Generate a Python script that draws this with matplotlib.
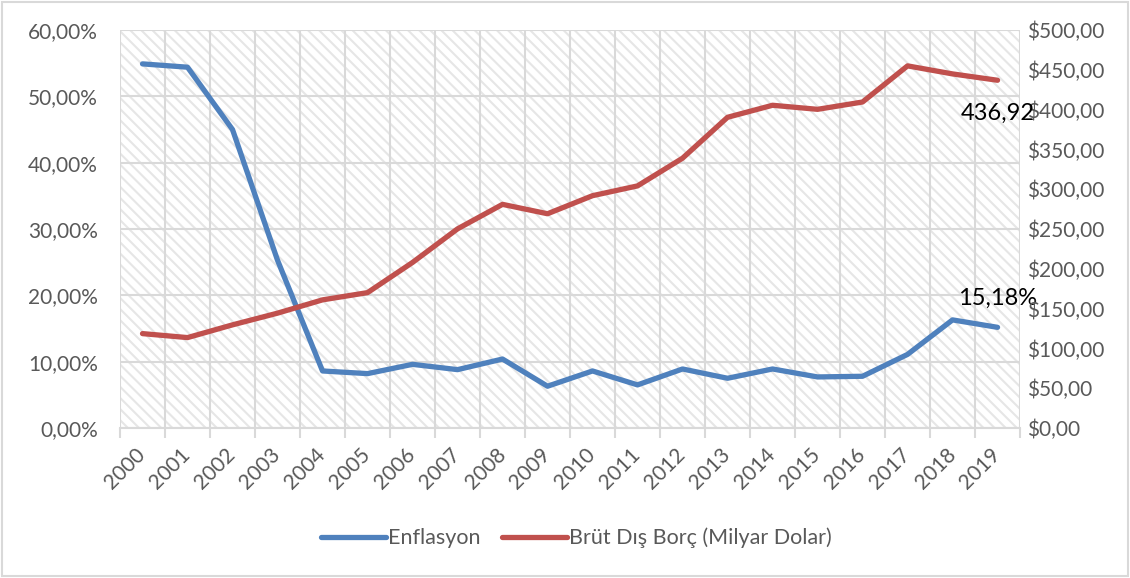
import matplotlib
matplotlib.use("Agg")
import matplotlib.pyplot as plt
from matplotlib.patches import Rectangle
from matplotlib.ticker import FuncFormatter, FixedLocator

plt.rcParams["font.family"] = ["Lato", "DejaVu Sans"]
plt.rcParams["hatch.linewidth"] = 1.5
plt.rcParams["hatch.color"] = "#e6e6e6"

years = [str(y) for y in range(2000, 2020)]
# Enflasyon (%)
enflasyon = [54.9, 54.4, 45.0, 25.3, 8.6, 8.2, 9.6, 8.8, 10.4, 6.3,
             8.6, 6.5, 8.9, 7.5, 8.9, 7.7, 7.8, 11.1, 16.3, 15.18]
# Brüt dış borç (milyar dolar)
dis_borc = [118.6, 113.6, 129.6, 144.3, 161.0, 170.1, 208.0, 250.2, 281.0, 269.2,
            291.9, 304.2, 339.0, 390.4, 405.5, 400.4, 409.6, 455.0, 444.9, 436.92]

BLUE = "#4f81bd"
RED = "#c0504d"
GRID = "#d9d9d9"
TXT = "#595959"

fig = plt.figure(figsize=(11.3, 5.78), dpi=100)
fig.patches.append(Rectangle((0.002, 0.004), 0.996, 0.992, transform=fig.transFigure,
                             facecolor="none", edgecolor=GRID, linewidth=1.5))
ax = fig.add_axes([0.1062, 0.2595, 0.7965, 0.6885])
ax2 = ax.twinx()

x = list(range(len(years)))

# tarama arka planı
ax.add_patch(Rectangle((0, 0), 1, 1, transform=ax.transAxes, facecolor="white",
                       hatch="\\\\\\", edgecolor="#e6e6e6", linewidth=0, zorder=0))

ax.plot(x, enflasyon, color=BLUE, linewidth=3.8, solid_capstyle="round",
        solid_joinstyle="round", label="Enflasyon", zorder=3)
ax2.plot(x, dis_borc, color=RED, linewidth=3.8, solid_capstyle="round",
         solid_joinstyle="round", label="Brüt Dış Borç (Milyar Dolar)", zorder=3)

ax.set_xlim(-0.5, len(years) - 0.5)
ax.set_ylim(0, 60)
ax2.set_ylim(0, 500)
ax.set_yticks(range(0, 61, 10))
ax2.set_yticks(range(0, 501, 50))
ax.yaxis.set_major_formatter(FuncFormatter(lambda v, p: f"{v:.2f}%".replace(".", ",")))
ax2.yaxis.set_major_formatter(FuncFormatter(lambda v, p: f"${v:.2f}".replace(".", ",")))

ax.set_xticks(x)
ax.set_xticklabels(years, rotation=45, ha="right", rotation_mode="anchor", va="center")
ax.xaxis.set_minor_locator(FixedLocator([i - 0.5 for i in range(len(years) + 1)]))

ax.set_axisbelow(True)
ax.grid(axis="y", which="major", color=GRID, linewidth=1.5)
ax.grid(axis="x", which="minor", color=GRID, linewidth=1.5)
ax.grid(axis="x", which="major", visible=False)

for a in (ax, ax2):
    for s in a.spines.values():
        s.set_visible(False)
ax.spines["bottom"].set_visible(True)
ax.spines["bottom"].set_color(GRID)
ax.spines["bottom"].set_linewidth(1.5)

ax.tick_params(axis="x", which="major", length=0, pad=17, labelsize=15, labelcolor=TXT)
ax.tick_params(axis="x", which="minor", length=7, width=1.5, color=GRID)
ax.tick_params(axis="y", length=0, pad=16, labelsize=15, labelcolor=TXT)
ax2.tick_params(axis="y", length=0, pad=5, labelsize=15, labelcolor=TXT)

ax2.annotate(f"{dis_borc[-1]:.2f}".replace(".", ","), (x[-1], dis_borc[-1]),
             xytext=(0, -24), textcoords="offset points", ha="center", va="center",
             fontsize=17, color="black")
ax.annotate(f"{enflasyon[-1]:.2f}%".replace(".", ","), (x[-1], enflasyon[-1]),
            xytext=(0, 21), textcoords="offset points", ha="center", va="center",
            fontsize=17, color="black")

h1, l1 = ax.get_legend_handles_labels()
h2, l2 = ax2.get_legend_handles_labels()
leg = fig.legend(h1 + h2, l1 + l2, loc="center", bbox_to_anchor=(0.51, 0.069), ncol=2,
                 frameon=False, fontsize=15.5, handlelength=3.0, handletextpad=0.1,
                 columnspacing=1.0)
for t in leg.get_texts():
    t.set_color(TXT)

fig.savefig("out.png", dpi=100)
